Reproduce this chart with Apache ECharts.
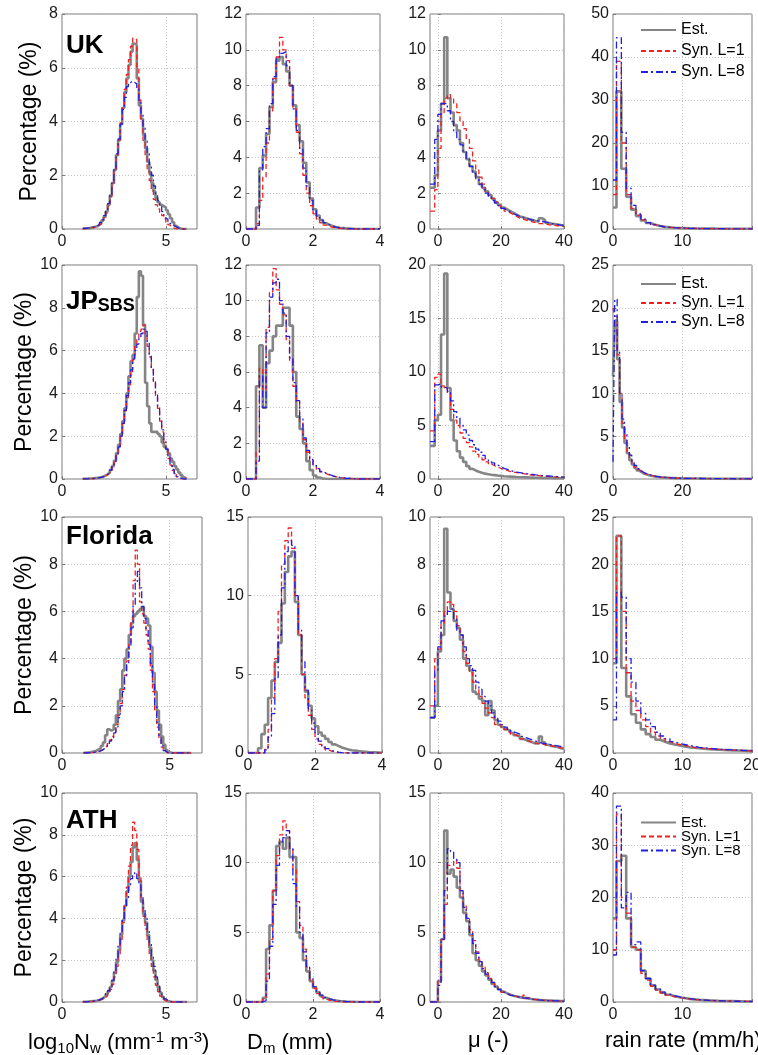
<!DOCTYPE html>
<html><head><meta charset="utf-8">
<script src="https://cdn.jsdelivr.net/npm/echarts@6/dist/echarts.min.js"></script>
<style>html,body{margin:0;padding:0;background:#fff}#c{width:758px;height:1055px}</style>
</head><body><div id="c"></div>
<script>
// ---------- bin edges (one per column variable) ----------
const NW_EDGES = [1.0,1.1,1.2,1.3,1.4,1.5,1.6,1.7,1.8,1.9,2.0,2.1,2.2,2.3,2.4,2.5,2.6,2.7,2.8,2.9,3.0,3.1,3.2,3.3,3.4,3.5,3.6,3.7,3.8,3.9,4.0,4.1,4.2,4.3,4.4,4.5,4.6,4.7,4.8,4.9,5.0,5.1,5.2,5.3,5.4,5.5,5.6,5.7,5.8,5.9,6.0];
const DM_EDGES = [0.0,0.1,0.2,0.3,0.4,0.5,0.6,0.7,0.8,0.9,1.0,1.1,1.2,1.3,1.4,1.5,1.6,1.7,1.8,1.9,2.0,2.1,2.2,2.3,2.4,2.5,2.6,2.7,2.8,2.9,3.0,3.1,3.2,3.3,3.4,3.5,3.6,3.7,3.8,3.9,4.0];
const MU_EDGES = [-2.5,-1,0,1,2,3,4,5,6,7,8,9,10,11,12,13,14,15,16,17,18,19,20,21,22,23,24,25,26,27,28,29,30,31,32,33,34,35,36,37,38,39,40];
const R_EDGES = [0,0.5,1.2,1.9,2.6,3.3,4.0,4.7,5.4,6.1,6.8,7.5,8.2,8.9,9.6,10.3,11.0,11.7,12.4,13.1,13.8,14.5,15.2,15.9,16.6,17.3,18.0,18.7,19.4,20.1,25,30,35,40];

// ---------- UK ----------
const UK_NW_EST = [0.02,0.03,0.03,0.05,0.06,0.08,0.1,0.15,0.22,0.32,0.45,0.65,0.9,1.25,1.7,2.2,2.75,3.3,3.9,4.5,5.1,5.6,6.1,6.6,6.9,6.85,5.6,4.6,4.1,3.5,3.0,2.5,2.1,1.7,1.4,1.15,1.0,0.9,0.85,0.8,0.7,0.55,0.4,0.25,0.12,0.06,0.02,0,0,0];
const UK_NW_L1 = [0.01,0.02,0.03,0.04,0.05,0.07,0.1,0.14,0.2,0.3,0.42,0.6,0.85,1.2,1.65,2.15,2.7,3.3,3.95,4.6,5.2,5.75,6.3,6.8,7.1,7.05,6.0,4.8,4.0,3.3,2.7,2.2,1.8,1.45,1.1,0.9,0.75,0.62,0.5,0.38,0.25,0.15,0.08,0.03,0.01,0,0,0,0,0];
const UK_NW_L8 = [0.02,0.03,0.04,0.05,0.07,0.09,0.12,0.17,0.25,0.35,0.5,0.7,0.95,1.3,1.75,2.25,2.8,3.35,3.9,4.45,4.9,5.3,5.45,5.5,5.45,5.4,5.2,4.7,4.3,3.8,3.3,2.8,2.4,2.0,1.6,1.3,1.05,0.85,0.65,0.5,0.38,0.28,0.2,0.13,0.08,0.04,0.02,0,0,0];
const UK_DM_EST = [0,0,0,1.2,3.4,4.1,5.3,6.8,8.2,9.4,9.6,9.2,8.8,8.0,6.9,5.8,4.9,3.7,2.6,1.7,1.1,0.75,0.5,0.33,0.22,0.15,0.1,0.07,0.05,0.03,0.02,0.01,0,0,0,0,0,0,0,0];
const UK_DM_L1 = [0,0,0,0.3,1.6,2.9,4.8,6.6,8.4,9.6,10.7,10.0,9.4,8.0,6.7,5.4,4.2,3.0,2.0,1.3,0.85,0.55,0.35,0.22,0.14,0.09,0.06,0.04,0.02,0.01,0,0,0,0,0,0,0,0,0,0];
const UK_DM_L8 = [0,0,0,0.2,3.3,4.6,5.6,7.0,8.5,9.5,9.8,9.9,9.1,8.0,6.7,5.5,4.5,3.4,2.4,1.6,1.05,0.72,0.5,0.35,0.24,0.16,0.11,0.07,0.05,0.03,0.02,0.01,0,0,0,0,0,0,0,0];
const UK_MU_EST = [2.3,3.0,5.5,7.0,10.7,7.3,6.5,5.8,5.5,4.8,4.3,3.9,3.5,3.2,2.9,2.5,2.3,2.1,1.9,1.7,1.5,1.35,1.2,1.1,1.0,0.9,0.8,0.7,0.65,0.6,0.55,0.5,0.45,0.4,0.6,0.5,0.35,0.3,0.28,0.25,0.22,0.2];
const UK_MU_L1 = [1.0,2.2,4.5,6.5,7.3,7.5,7.3,7.0,6.5,6.0,5.6,5.0,4.5,3.8,3.3,2.9,2.5,2.1,1.9,1.7,1.5,1.3,1.15,1.0,0.9,0.8,0.7,0.6,0.55,0.5,0.45,0.4,0.35,0.3,0.3,0.28,0.25,0.22,0.2,0.18,0.16,0.15];
const UK_MU_L8 = [2.5,5.0,6.4,7.0,7.0,6.6,6.0,5.4,5.0,4.7,4.3,3.9,3.5,3.1,2.8,2.5,2.2,2.0,1.8,1.6,1.45,1.3,1.15,1.05,0.95,0.85,0.78,0.7,0.65,0.6,0.55,0.5,0.48,0.45,0.42,0.4,0.35,0.3,0.28,0.25,0.22,0.2];
const UK_R_EST = [5,32,14,7.5,4.5,3.0,2.0,1.4,1.0,0.7,0.5,0.4,0.3,0.25,0.2,0.15,0.12,0.1,0.1,0.08,0.08,0.07,0.06,0.05,0.05,0.04,0.04,0.03,0.03];
const UK_R_L1 = [8,39,20,8,4.8,3.2,2.1,1.5,1.0,0.7,0.5,0.38,0.3,0.24,0.2,0.16,0.13,0.11,0.1,0.09,0.08,0.07,0.06,0.05,0.05,0.04,0.04,0.03,0.03];
const UK_R_L8 = [11.4,44.5,22.5,9.5,5.5,3.5,2.3,1.5,1.0,0.7,0.5,0.38,0.3,0.24,0.2,0.16,0.13,0.11,0.1,0.09,0.08,0.07,0.06,0.05,0.05,0.04,0.04,0.03,0.03];

// ---------- JP SBS ----------
const JP_NW_EST = [0.01,0.01,0.02,0.02,0.03,0.04,0.05,0.07,0.09,0.12,0.16,0.22,0.3,0.42,0.6,0.85,1.2,1.6,2.1,2.7,3.3,4.0,4.8,5.5,5.8,6.8,8.5,9.7,9.5,7.2,4.5,3.4,2.6,2.2,2.2,2.2,2.1,2.0,1.7,1.5,1.4,1.2,0.95,0.8,0.6,0.45,0.3,0.18,0.08,0.03];
const JP_NW_L1 = [0.01,0.01,0.01,0.02,0.02,0.03,0.04,0.06,0.08,0.1,0.14,0.2,0.28,0.4,0.55,0.8,1.1,1.5,2.0,2.6,3.2,3.8,4.4,5.0,5.6,6.2,6.6,6.9,7.0,7.2,6.7,6.2,5.7,5.1,4.5,3.9,3.3,2.7,2.2,1.7,1.3,0.95,0.65,0.4,0.22,0.1,0.04,0.01,0,0];
const JP_NW_L8 = [0.01,0.01,0.01,0.02,0.02,0.03,0.04,0.06,0.08,0.11,0.15,0.21,0.3,0.42,0.58,0.82,1.1,1.5,2.0,2.6,3.2,3.9,4.5,5.1,5.6,6.0,6.3,6.6,6.8,7.0,6.9,6.4,5.8,5.2,4.6,4.0,3.4,2.8,2.3,1.8,1.4,1.0,0.7,0.45,0.25,0.12,0.05,0.02,0,0];
const JP_DM_EST = [0,0,0,5.2,7.5,4.0,6.5,7.2,8.0,8.6,8.6,9.6,9.6,8.6,6.0,3.5,2.8,2.0,1.0,0.5,0.2,0.08,0.03,0.01,0,0,0,0,0,0,0,0,0,0,0,0,0,0,0,0];
const JP_DM_L1 = [0,0,0,1.5,6.2,5.0,8.5,10.5,11.8,10.6,9.8,9.2,7.8,6.6,5.2,4.3,3.2,2.2,1.5,1.05,0.75,0.55,0.4,0.3,0.22,0.16,0.12,0.08,0.06,0.04,0.03,0.02,0.01,0,0,0,0,0,0,0];
const JP_DM_L8 = [0,0,0,1.0,5.8,4.0,8.2,10.2,11.0,11.2,10.0,9.3,8.0,6.8,5.4,4.4,3.4,2.3,1.6,1.1,0.8,0.58,0.42,0.32,0.24,0.18,0.13,0.09,0.06,0.04,0.03,0.02,0.01,0,0,0,0,0,0,0];
const JP_MU_EST = [3.1,5.5,6.0,13.5,19.2,8.5,5.5,3.6,2.6,2.0,1.6,1.2,0.95,0.8,0.68,0.58,0.5,0.45,0.4,0.36,0.32,0.29,0.26,0.24,0.22,0.2,0.18,0.17,0.16,0.15,0.14,0.13,0.12,0.11,0.1,0.1,0.09,0.09,0.08,0.08,0.07,0.07];
const JP_MU_L1 = [4.5,9.5,9.8,8.7,8.5,8.0,6.5,5.5,5.0,4.3,3.8,3.4,3.0,2.6,2.3,2.0,1.8,1.6,1.4,1.25,1.1,1.0,0.9,0.8,0.7,0.65,0.6,0.55,0.5,0.45,0.4,0.37,0.34,0.31,0.28,0.26,0.24,0.22,0.2,0.18,0.17,0.15];
const JP_MU_L8 = [3.5,8.8,8.9,8.6,8.5,8.2,7.3,6.3,5.7,5.1,4.6,4.1,3.6,3.2,2.8,2.5,2.2,1.9,1.7,1.5,1.3,1.15,1.0,0.9,0.8,0.7,0.65,0.6,0.55,0.5,0.45,0.42,0.38,0.35,0.32,0.3,0.28,0.26,0.24,0.22,0.2,0.18];
const JP_R_EST = [12,18.5,14,9,6,4.2,3.0,2.2,1.7,1.3,1.0,0.8,0.65,0.55,0.45,0.38,0.32,0.28,0.24,0.2,0.18,0.16,0.14,0.12,0.11,0.1,0.09,0.08,0.07,0.05,0.03,0.02,0.01];
const JP_R_L1 = [20,19,14.5,10,6.5,4.5,3.2,2.4,1.8,1.4,1.1,0.9,0.7,0.6,0.5,0.42,0.36,0.3,0.26,0.22,0.2,0.18,0.16,0.14,0.12,0.11,0.1,0.09,0.08,0.06,0.04,0.03,0.02];
const JP_R_L8 = [2,21,15,10,7,5.2,3.8,2.8,2.1,1.6,1.2,0.95,0.75,0.62,0.52,0.44,0.37,0.31,0.27,0.23,0.2,0.18,0.16,0.14,0.12,0.11,0.1,0.09,0.08,0.06,0.04,0.03,0.02];

// ---------- Florida ----------
const FL_NW_EST = [0.01,0.02,0.03,0.05,0.07,0.1,0.15,0.2,0.3,0.45,0.75,1.0,0.95,1.0,1.2,1.6,2.2,2.7,3.5,4.0,4.4,5.0,5.5,5.8,5.9,6.0,6.1,6.2,5.8,5.7,5.4,4.5,3.4,2.6,1.8,1.2,0.7,0.35,0.12,0.03,0.01,0,0,0,0,0,0,0,0,0];
const FL_NW_L1 = [0,0.01,0.01,0.02,0.03,0.05,0.07,0.1,0.15,0.22,0.3,0.4,0.55,0.7,0.9,1.2,1.6,2.1,2.7,3.3,3.9,4.6,5.6,7.3,8.6,8.0,6.4,5.9,5.5,5.0,4.4,3.5,2.6,1.8,1.1,0.6,0.25,0.08,0.02,0,0,0,0,0,0,0,0,0,0,0];
const FL_NW_L8 = [0,0.01,0.01,0.02,0.03,0.04,0.06,0.09,0.13,0.2,0.28,0.38,0.5,0.65,0.85,1.1,1.5,2.0,2.6,3.2,3.8,4.5,5.3,6.3,7.2,7.7,7.0,6.2,5.7,5.2,4.6,3.8,2.9,2.0,1.3,0.7,0.3,0.1,0.02,0,0,0,0,0,0,0,0,0,0,0];
const FL_DM_EST = [0,0,0,0.3,1.2,1.8,3.5,4.6,5.8,7.0,9.5,11.5,12.5,12.8,9.6,7.5,5.0,3.9,3.0,2.2,1.7,1.3,1.1,0.9,0.7,0.55,0.45,0.35,0.28,0.22,0.18,0.15,0.12,0.1,0.08,0.06,0.05,0.04,0.03,0.02];
const FL_DM_L1 = [0,0,0,0,0,0.3,1.5,3.5,6.0,9.0,12.0,13.5,14.3,13.0,10.0,7.5,5.0,3.5,2.4,1.5,0.9,0.55,0.35,0.2,0.12,0.07,0.04,0.02,0.01,0,0,0,0,0,0,0,0,0,0,0];
const FL_DM_L8 = [0,0,0,0,0,0.2,1.0,2.5,4.8,7.5,10.5,12.8,13.5,13.2,10.0,7.8,5.8,4.0,2.8,1.9,1.2,0.75,0.45,0.28,0.16,0.1,0.05,0.02,0.01,0,0,0,0,0,0,0,0,0,0,0];
const FL_MU_EST = [1.5,2.0,4.3,5.0,9.5,6.8,6.1,5.6,5.3,4.8,4.0,3.7,3.5,2.6,2.5,2.3,2.2,1.6,2.2,1.8,1.4,1.2,1.1,1.0,0.95,0.85,0.75,0.7,0.6,0.55,0.5,0.45,0.4,0.4,0.7,0.45,0.35,0.3,0.28,0.25,0.2,0.18];
const FL_MU_L1 = [2.0,4.0,4.4,5.5,6.0,6.4,6.3,6.0,5.4,5.0,4.3,3.8,3.4,3.0,2.7,2.4,2.1,1.9,1.7,1.5,1.2,1.2,1.1,1.0,0.9,0.8,0.75,0.7,0.6,0.55,0.5,0.45,0.42,0.4,0.38,0.35,0.32,0.3,0.28,0.25,0.22,0.2];
const FL_MU_L8 = [1.5,3.5,4.5,5.6,5.8,6.0,6.1,5.7,5.2,5.0,4.5,4.0,3.7,3.5,3.0,2.7,2.4,2.2,2.0,1.7,1.5,1.35,1.2,1.1,1.0,0.9,0.85,0.8,0.7,0.65,0.6,0.55,0.5,0.45,0.42,0.4,0.38,0.35,0.32,0.3,0.28,0.25];
const FL_R_EST = [9.5,23,9.0,6.0,4.1,3.2,2.5,2.0,1.7,1.4,1.2,1.0,0.9,0.8,0.7,0.6,0.55,0.5,0.45,0.4,0.38,0.35,0.32,0.3,0.28,0.26,0.24,0.22,0.2];
const FL_R_L1 = [10,23,15,8.5,5.5,4.5,3.5,2.8,2.2,1.8,1.5,1.2,1.0,0.9,0.8,0.7,0.6,0.55,0.5,0.45,0.4,0.38,0.35,0.32,0.3,0.28,0.26,0.24,0.22];
const FL_R_L8 = [3.5,17,16.5,10,7.5,5.5,4.2,3.5,2.8,2.2,1.8,1.5,1.2,1.0,0.9,0.8,0.7,0.6,0.55,0.5,0.45,0.4,0.38,0.35,0.32,0.3,0.28,0.25,0.25];

// ---------- ATH ----------
const ATH_NW_EST = [0.01,0.01,0.02,0.03,0.04,0.05,0.07,0.1,0.14,0.2,0.28,0.38,0.52,0.72,1.0,1.4,1.9,2.5,3.2,3.9,4.6,5.3,6.0,6.7,7.4,7.6,6.8,5.8,4.8,4.2,3.8,3.2,2.6,2.0,1.5,1.05,0.7,0.45,0.25,0.12,0.05,0.02,0,0,0,0,0,0,0,0];
const ATH_NW_L1 = [0,0.01,0.01,0.02,0.03,0.04,0.06,0.08,0.11,0.16,0.22,0.3,0.42,0.6,0.85,1.2,1.7,2.3,3.0,3.8,4.6,5.5,6.5,7.5,8.6,8.2,7.3,6.0,4.9,4.1,3.5,2.9,2.3,1.7,1.2,0.8,0.5,0.28,0.14,0.05,0.02,0,0,0,0,0,0,0,0,0];
const ATH_NW_L8 = [0.01,0.01,0.02,0.03,0.04,0.05,0.07,0.1,0.14,0.2,0.28,0.4,0.55,0.75,1.05,1.5,2.1,2.7,3.3,3.9,4.5,5.0,5.5,5.9,6.1,6.2,5.9,5.6,5.0,4.5,4.0,3.4,2.8,2.2,1.7,1.2,0.8,0.5,0.3,0.15,0.07,0.03,0.01,0,0,0,0,0,0,0];
const ATH_DM_EST = [0,0,0,0,0,0.3,3.8,5.5,8.0,11.2,11.5,11.0,11.8,10.4,10.4,5.0,4.6,3.0,2.2,1.5,1.0,0.7,0.45,0.3,0.2,0.14,0.1,0.07,0.05,0.03,0.02,0.01,0,0,0,0,0,0,0,0];
const ATH_DM_L1 = [0,0,0,0,0,0.2,2.0,4.5,8.0,10.5,12.0,13.0,12.3,11.0,9.5,7.2,5.5,3.8,2.5,1.6,1.0,0.6,0.35,0.2,0.12,0.07,0.04,0.02,0.01,0,0,0,0,0,0,0,0,0,0,0];
const ATH_DM_L8 = [0,0,0,0,0,0.1,1.5,4.0,7.0,9.8,11.5,11.8,12.3,11.0,8.5,6.8,5.0,3.6,2.5,1.7,1.1,0.75,0.5,0.33,0.22,0.15,0.1,0.07,0.05,0.03,0.02,0.01,0,0,0,0,0,0,0,0];
const ATH_MU_EST = [0,0,1.5,4.5,12.3,9.2,9.5,9.0,8.2,7.5,6.4,5.8,4.8,3.5,3.0,2.6,2.2,1.9,1.6,1.3,1.1,0.9,0.75,0.62,0.52,0.45,0.4,0.35,0.3,0.28,0.25,0.2,0.18,0.15,0.13,0.12,0.1,0.1,0.08,0.08,0.07,0.06];
const ATH_MU_L1 = [0,0,1.5,4.5,7.0,9.8,9.8,10.2,9.6,8.0,7.0,6.0,5.2,4.4,3.6,3.0,2.5,2.1,1.7,1.4,1.1,0.9,0.7,0.6,0.5,0.45,0.4,0.35,0.3,0.5,0.3,0.2,0.18,0.15,0.13,0.12,0.1,0.1,0.08,0.08,0.07,0.06];
const ATH_MU_L8 = [0,0,1.2,4.5,8.0,11.0,10.8,10.3,10.0,8.0,6.8,6.0,5.0,4.2,3.5,2.9,2.4,2.0,1.7,1.4,1.1,0.9,0.7,0.6,0.5,0.45,0.4,0.35,0.3,0.28,0.25,0.2,0.18,0.15,0.13,0.12,0.1,0.1,0.08,0.08,0.07,0.06];
const ATH_R_EST = [16,27,28,16,10.5,10,6,4.5,3.2,2.4,1.8,1.4,1.1,0.9,0.75,0.6,0.5,0.42,0.36,0.3,0.26,0.22,0.2,0.18,0.16,0.14,0.12,0.11,0.1];
const ATH_R_L1 = [10,36,20,17,10.5,10,5.5,4.2,3.0,2.3,1.7,1.3,1.0,0.85,0.7,0.58,0.48,0.4,0.34,0.3,0.26,0.22,0.2,0.18,0.16,0.14,0.12,0.11,0.1];
const ATH_R_L8 = [9,37.5,18,21,11,11.5,6,4.5,3.2,2.5,1.9,1.5,1.2,1.0,0.8,0.65,0.55,0.45,0.38,0.32,0.28,0.24,0.2,0.18,0.16,0.14,0.12,0.11,0.1];

// ---------- axes / labels ----------
const SERIES_NAMES = ['Est.', 'Syn. L=1', 'Syn. L=8'];
const Y_MAX  = [[8,12,12,50],[10,12,20,25],[10,15,10,25],[10,15,15,40]];
const Y_STEP = [[2,2,2,10],[2,2,5,5],[2,5,2,5],[2,5,5,10]];
const X_MIN = [0, 0, -2.5, 0];
const X_MAX = [[6.5,4,40,20],[6.5,4,40,40],[6.5,4,40,20],[6.5,4,40,20]];
const X_TICKS = [[[0,5],[0,2,4],[0,20,40],[0,10,20]],[[0,5],[0,2,4],[0,20,40],[0,20,40]],[[0,5],[0,2,4],[0,20,40],[0,10,20]],[[0,5],[0,2,4],[0,20,40],[0,10,20]]];
const X_TICK_LABELS = [[[0,5],[0,2,4],[0,20,40],[0,10]],[[0,5],[0,2,4],[0,20,40],[0,20]],[[0,5],[0,2,4],[0,20,40],[0,10,20]],[[0,5],[0,2,4],[0,20,40],[0,10]]];
const Y_TITLE = 'Percentage (%)';

const EDGES = [NW_EDGES, DM_EDGES, MU_EDGES, R_EDGES];
const PANELS = [
  [[UK_NW_EST,UK_NW_L1,UK_NW_L8],[UK_DM_EST,UK_DM_L1,UK_DM_L8],[UK_MU_EST,UK_MU_L1,UK_MU_L8],[UK_R_EST,UK_R_L1,UK_R_L8]],
  [[JP_NW_EST,JP_NW_L1,JP_NW_L8],[JP_DM_EST,JP_DM_L1,JP_DM_L8],[JP_MU_EST,JP_MU_L1,JP_MU_L8],[JP_R_EST,JP_R_L1,JP_R_L8]],
  [[FL_NW_EST,FL_NW_L1,FL_NW_L8],[FL_DM_EST,FL_DM_L1,FL_DM_L8],[FL_MU_EST,FL_MU_L1,FL_MU_L8],[FL_R_EST,FL_R_L1,FL_R_L8]],
  [[ATH_NW_EST,ATH_NW_L1,ATH_NW_L8],[ATH_DM_EST,ATH_DM_L1,ATH_DM_L8],[ATH_MU_EST,ATH_MU_L1,ATH_MU_L8],[ATH_R_EST,ATH_R_L1,ATH_R_L8]]
];

// ---------- layout & style ----------
const FONT = 'Liberation Sans, Arial, Helvetica, sans-serif';
const COL_LEFT = [62, 246, 430, 613];
const COL_WIDTH = [135, 134, 134, 139];
const ROW_TOP = [14, 265, 517, 793];
const ROW_HEIGHT = [215, 214, 236, 209];
const STYLES = [
  {color:'#858585', width:2.6, type:'solid'},
  {color:'#f02020', width:1.3, type:[5,3]},
  {color:'#2020e0', width:1.3, type:[7,3,2,3]}
];
const GRID_LINE = {color:'#c4c4c4', type:[1,2], width:1};
const TICK_LABEL = {fontSize:16, color:'#1a1a1a', fontFamily:FONT};

function stairs(edges, vals) {
  const out = [];
  for (let i = 0; i < vals.length; i++) out.push([edges[i], vals[i]]);
  out.push([edges[vals.length], vals[vals.length - 1]]);
  return out;
}

const grids = [], xAxes = [], yAxes = [], series = [];
for (let r = 0; r < 4; r++) {
  for (let c = 0; c < 4; c++) {
    const p = r * 4 + c;
    let left = COL_LEFT[c], width = COL_WIDTH[c];
    if (r === 2 && c === 0) width = 140;
    if (r === 2 && c === 1) left = 248;
    grids.push({left:left, top:ROW_TOP[r], width:width, height:ROW_HEIGHT[r], show:true,
      borderColor:'#7a7a7a', borderWidth:1, backgroundColor:'transparent', containLabel:false, outerBoundsMode:'none'});
    xAxes.push({type:'value', gridIndex:p, min:X_MIN[c], max:X_MAX[r][c],
      axisLine:{show:false},
      axisTick:{show:true, inside:true, length:3, lineStyle:{color:'#7a7a7a'}, customValues:X_TICKS[r][c]},
      axisLabel:Object.assign({margin:5, customValues:X_TICK_LABELS[r][c]}, TICK_LABEL),
      splitLine:{show:true, lineStyle:GRID_LINE}});
    const ya = {type:'value', gridIndex:p, min:0, max:Y_MAX[r][c], interval:Y_STEP[r][c],
      axisLine:{show:false},
      axisTick:{show:true, inside:true, length:3, lineStyle:{color:'#7a7a7a'}},
      axisLabel:Object.assign({margin:4}, TICK_LABEL),
      splitLine:{show:true, lineStyle:GRID_LINE}};
    if (c === 0) {
      ya.name = Y_TITLE; ya.nameLocation = 'middle'; ya.nameGap = 21;
      ya.nameTextStyle = {fontSize:23, fontWeight:'normal', color:'#000', fontFamily:FONT};
    }
    yAxes.push(ya);
    for (let s = 0; s < 3; s++) {
      const st = STYLES[s];
      series.push({type:'line', name:SERIES_NAMES[s], xAxisIndex:p, yAxisIndex:p,
        data:stairs(EDGES[c], PANELS[r][c][s]), step:'end', symbol:'none', silent:true,
        color:st.color, itemStyle:{color:st.color},
        lineStyle:{color:st.color, width:st.width, type:st.type}, z:2 + s});
    }
  }
}

const BOLD = {fontSize:26, fontWeight:'bold', color:'#000', fontFamily:FONT};
const AX = {fontSize:22, fontWeight:'normal', color:'#000', fontFamily:FONT};
const AX_RICH = {
  t:{fontSize:22, fontWeight:'normal', color:'#000', fontFamily:FONT},
  s:{fontSize:15, fontWeight:'normal', color:'#000', fontFamily:FONT, padding:[11,0,0,0]},
  p:{fontSize:15, fontWeight:'normal', color:'#000', fontFamily:FONT, padding:[0,0,10,0]}
};
const titles = [
  {text:'UK', left:66, top:33, padding:0, textStyle:BOLD},
  {text:'{a|JP}{b|SBS}', left:66, top:288, padding:0, textStyle:{rich:{
    a:BOLD, b:{fontSize:18, fontWeight:'bold', color:'#000', fontFamily:FONT, padding:[9,0,0,0]}}}},
  {text:'Florida', left:66, top:524, padding:0, textStyle:BOLD},
  {text:'ATH', left:66, top:808, padding:0, textStyle:BOLD},
  {text:'{t|log}{s|10}{t|N}{s|w}{t| (mm}{p|-1}{t| m}{p|-3}{t|)}', left:28, top:1030, padding:0,
    textStyle:{fontWeight:'normal', rich:AX_RICH}},
  {text:'{t|D}{s|m}{t| (mm)}', left:247, top:1030, padding:0, textStyle:{fontWeight:'normal', rich:AX_RICH}},
  {text:'μ (-)', left:468, top:1030, padding:0, textStyle:AX},
  {text:'rain rate (mm/h)', left:605, top:1030, padding:0, textStyle:AX}
];

const LEG_TOP = [22, 276, 815];
const LEG_GAP = [5, 3, -1];
const LEG_FONT = [16, 16, 15];
const legends = LEG_TOP.map((t, i) => ({
  left:640, top:t, orient:'vertical', itemWidth:35, itemHeight:10, itemGap:LEG_GAP[i], padding:0,
  selectedMode:false, itemStyle:{opacity:0, borderWidth:0},
  textStyle:{fontSize:LEG_FONT[i], color:'#000', fontFamily:FONT},
  data:SERIES_NAMES
}));

const chart = echarts.init(document.getElementById('c'), null, {renderer:'canvas'});
chart.setOption({
  animation:false,
  backgroundColor:'#fff',
  title:titles,
  legend:legends,
  grid:grids,
  xAxis:xAxes,
  yAxis:yAxes,
  series:series
});
</script></body></html>
